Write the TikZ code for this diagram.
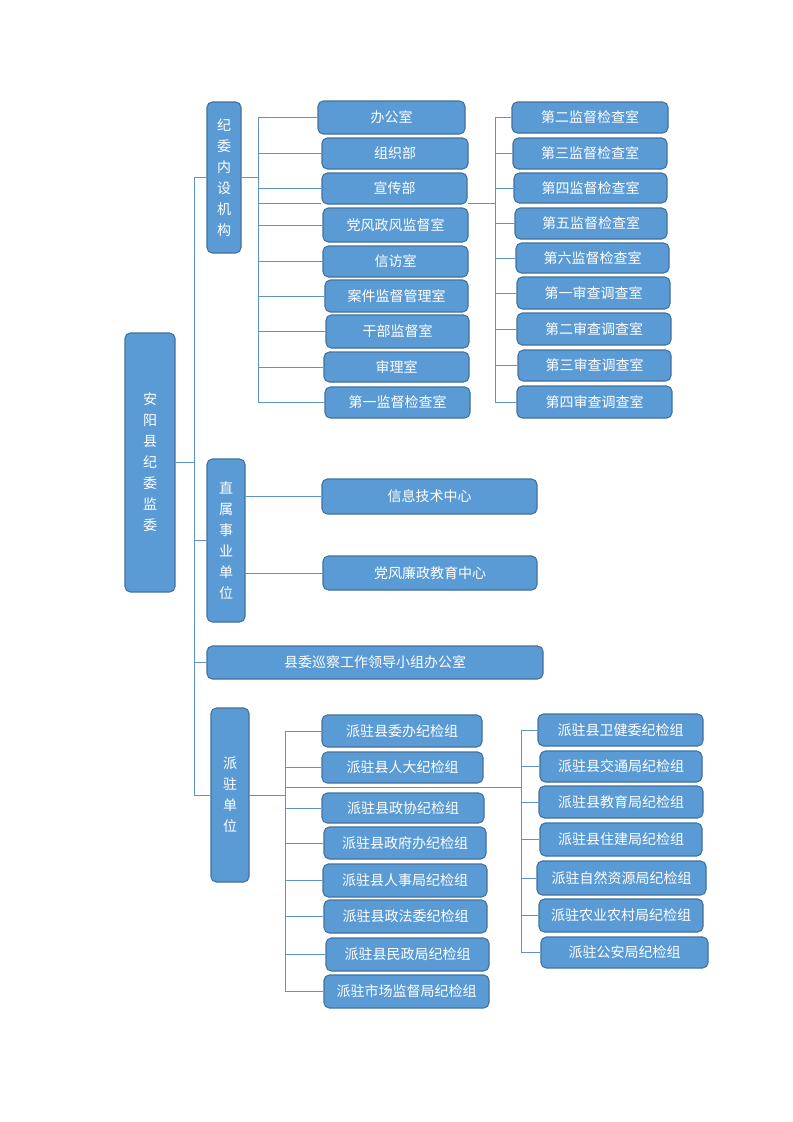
\documentclass[tikz,border=0pt]{standalone}
\usepackage{fontspec}
\setmainfont{Noto Sans CJK SC}
\definecolor{boxfill}{HTML}{5B9BD5}
\definecolor{boxline}{HTML}{41719C}
\definecolor{conn}{HTML}{5F93C8}
\tikzset{
  box/.style={draw=boxline, line width=0.8pt, fill=boxfill, rounded corners=4pt,
    text=white, inner sep=0pt, align=center,
    font=\fontsize{10.5}{15.75}\selectfont},
  conline/.style={draw=conn, line width=0.7pt}
}
\newcommand\bx[6]{\node[box, minimum width={(#4-#2)*0.75pt}, minimum height={(#5-#3)*0.75pt}] (#1) at ({(#2+#4)/2},{(#3+#5)/2}) {#6};}
\begin{document}
\begin{tikzpicture}[x=0.75pt,y=-0.75pt]
\useasboundingbox (0,0) rectangle (793,1122);
\fill[white] (0,0) rectangle (793,1122);
% named bus coordinates
\coordinate (trunk) at (194,0);
\coordinate (busA) at (258,0);
\coordinate (busB) at (495,0);
\coordinate (busC) at (285,0);
\coordinate (busD) at (521,0);
\coordinate (hB) at (495,203);
\coordinate (hD) at (521,787);

\bx{root}{125}{333}{175}{592}{安\\阳\\县\\纪\\委\\监\\委}
\bx{n1}{207}{102}{241}{253}{纪\\委\\内\\设\\机\\构}
\bx{n2}{207}{459}{245}{622}{直\\属\\事\\业\\单\\位}
\bx{n3}{207}{646}{543}{679}{县委巡察工作领导小组办公室}
\bx{n4}{211}{708}{249}{882}{派\\驻\\单\\位}

\bx{a1}{318}{101}{465}{134}{办公室}
\bx{a2}{322}{138}{468}{169}{组织部}
\bx{a3}{322}{173}{467}{204}{宣传部}
\bx{a4}{323}{208}{468}{242}{党风政风监督室}
\bx{a5}{323}{246}{468}{277}{信访室}
\bx{a6}{325}{280}{468}{312}{案件监督管理室}
\bx{a7}{326}{315}{469}{348}{干部监督室}
\bx{a8}{324}{352}{469}{382}{审理室}
\bx{a9}{325}{387}{470}{418}{第一监督检查室}

\bx{b1}{512}{102}{668}{133}{第二监督检查室}
\bx{b2}{513}{138}{667}{169}{第三监督检查室}
\bx{b3}{514}{173}{667}{203}{第四监督检查室}
\bx{b4}{515}{208}{667}{239}{第五监督检查室}
\bx{b5}{516}{243}{669}{273}{第六监督检查室}
\bx{b6}{517}{277}{670}{309}{第一审查调查室}
\bx{b7}{517}{313}{671}{345}{第二审查调查室}
\bx{b8}{518}{350}{671}{381}{第三审查调查室}
\bx{b9}{517}{386}{672}{418}{第四审查调查室}

\bx{s1}{322}{479}{537}{514}{信息技术中心}
\bx{s2}{323}{556}{537}{590}{党风廉政教育中心}

\bx{c1}{322}{715}{482}{747}{派驻县委办纪检组}
\bx{c2}{322}{752}{483}{783}{派驻县人大纪检组}
\bx{c3}{322}{793}{484}{823}{派驻县政协纪检组}
\bx{c4}{324}{827}{486}{859}{派驻县政府办纪检组}
\bx{c5}{323}{864}{487}{897}{派驻县人事局纪检组}
\bx{c6}{324}{900}{487}{933}{派驻县政法委纪检组}
\bx{c7}{326}{938}{489}{971}{派驻县民政局纪检组}
\bx{c8}{324}{975}{489}{1008}{派驻市场监督局纪检组}

\bx{d1}{538}{714}{703}{746}{派驻县卫健委纪检组}
\bx{d2}{540}{751}{702}{782}{派驻县交通局纪检组}
\bx{d3}{539}{786}{703}{818}{派驻县教育局纪检组}
\bx{d4}{540}{823}{702}{856}{派驻县住建局纪检组}
\bx{d5}{537}{861}{706}{895}{派驻自然资源局纪检组}
\bx{d6}{539}{899}{703}{932}{派驻农业农村局纪检组}
\bx{d7}{541}{937}{708}{968}{派驻公安局纪检组}

% connectors
\path[conline] (root.east) -- (trunk |- root.east);
\path[conline] (trunk |- n1.west) -- (trunk |- n4.west);
\path[conline] (trunk |- n1.west) -- (n1.west);
\path[conline] (trunk |- n2.west) -- (n2.west);
\path[conline] (trunk |- n3.west) -- (n3.west);
\path[conline] (trunk |- n4.west) -- (n4.west);

\path[conline] (n1.east) -- (busA |- n1.east);
\path[conline] (busA |- a1.west) -- (busA |- a9.west);
\foreach \i in {1,...,9} {\path[conline] (busA |- a\i.west) -- (a\i.west);}
\path[conline] (busA |- hB) -- (a3.south west |- hB);
\path[conline] (a3.south east |- hB) -- (hB);
\path[conline] (busB |- b1.west) -- (busB |- b9.west);
\foreach \i in {1,...,9} {\path[conline] (busB |- b\i.west) -- (b\i.west);}

\path[conline] (n2.east |- s1.west) -- (s1.west);
\path[conline] (n2.east |- s2.west) -- (s2.west);

\path[conline] (n4.east) -- (busC |- n4.east);
\path[conline] (busC |- c1.west) -- (busC |- c8.west);
\foreach \i in {1,...,8} {\path[conline] (busC |- c\i.west) -- (c\i.west);}
\path[conline] (busC |- hD) -- (hD);
\path[conline] (busD |- d1.west) -- (busD |- d7.west);
\foreach \i in {1,...,7} {\path[conline] (busD |- d\i.west) -- (d\i.west);}
\end{tikzpicture}
\end{document}
